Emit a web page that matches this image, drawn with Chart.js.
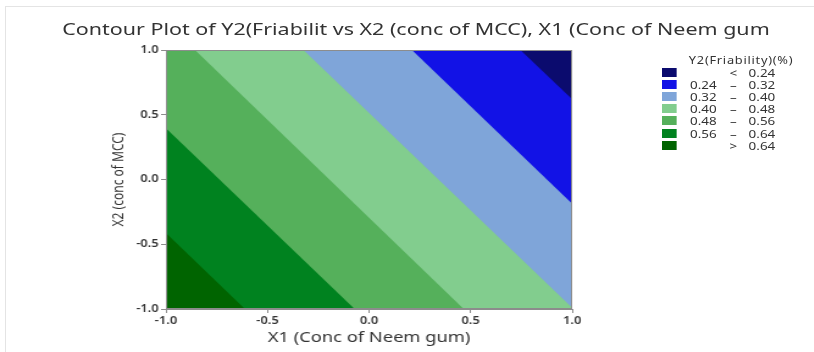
<!DOCTYPE html>
<html lang="en">
<head>
  <meta charset="UTF-8">
  <title>Contour Plot of Y2</title>
  <script src="https://cdn.jsdelivr.net/npm/chart.js"></script>
  <style>
    body { margin: 0; background: #fff; font-family: "Noto Sans", sans-serif; color: #333; }
    .wrap { position: relative; width: 814px; height: 352px; overflow: hidden; }
    .frame { position: absolute; left: 5px; top: 6px; right: 0; bottom: 0; border-top: 1px solid #e4e4e4; border-left: 1px solid #e4e4e4; }
    /* the source image is stretched sideways, so the chart is drawn narrow and scaled */
    .stretch { position: absolute; left: 0; top: 0; transform: scaleX(1.22); transform-origin: 0 0; }
    #title { position: absolute; top: 17px; left: 415.5px; font-size: 16.5px; }
    #title span { position: absolute; left: 0; top: 0; white-space: nowrap; transform: translateX(-50%) scaleX(1.3); }
    #legend { left: 662px; top: 55px; font-size: 11px; }
    #legend .ttl { margin-left: 22px; font-size: 10.5px; line-height: 11px; letter-spacing: 0.6px; }
    #legend .row { display: flex; align-items: center; height: 12.2px; }
    #legend .sw { width: 11.5px; height: 9px; margin-right: 11.5px; }
    #legend .a { width: 23px; }
    #legend .op { width: 25px; text-align: center; }
  </style>
</head>
<body>
  <div class="wrap">
    <div class="frame"></div>
    <div class="stretch">
      <canvas id="contourChart" width="667" height="352"></canvas>
    </div>
    <div id="title"><span>Contour Plot of Y2(Friabilit vs X2 (conc of MCC), X1 (Conc of Neem gum</span></div>
    <div id="legend" class="stretch"></div>
  </div>
  <script>
    // Y2 (Friability) bands, lowest first
    const bandLow = ['', '0.24', '0.32', '0.40', '0.48', '0.56', ''];
    const bandOp = ['<', '\u2013', '\u2013', '\u2013', '\u2013', '\u2013', '>'];
    const bandHigh = ['0.24', '0.32', '0.40', '0.48', '0.56', '0.64', '0.64'];
    const bandColors = ['#0b0b6e', '#1212e6', '#7fa5d9', '#82cd8e', '#55b05b', '#00821f', '#006400'];

    // where each contour line (Y2 = 0.24 ... 0.64) meets the plot frame
    const contourLevels = [0.24, 0.32, 0.40, 0.48, 0.56, 0.64];
    const contourFrom = [[0.745, 1], [0.211, 1], [-0.323, 1], [-0.857, 1], [-1, 0.396], [-1, -0.414]];
    const contourTo = [[1, 0.62], [1, -0.188], [1, -0.99], [0.466, -1], [-0.071, -1], [-0.611, -1]];

    const xTicks = [-1, -0.5, 0, 0.5, 1];
    const yTicks = [-1, -0.5, 0, 0.5, 1];

    // position along the frame, going clockwise from bottom-left corner
    function perim(p) {
      const [x, y] = p;
      if (x === -1) return (y + 1) / 2;
      if (y === 1) return 1 + (x + 1) / 2;
      if (x === 1) return 2 + (1 - y) / 2;
      return 3 + (1 - x) / 2;
    }
    const corners = [[-1, 1], [1, 1], [1, -1]];

    // region where Y2 < level: contour line plus frame corners on the upper right side
    function region(a, b) {
      const ta = perim(a), tb = perim(b);
      const pts = [{x: a[0], y: a[1]}];
      corners.forEach((c, i) => {
        if (i + 1 > ta && i + 1 < tb) pts.push({x: c[0], y: c[1]});
      });
      pts.push({x: b[0], y: b[1]});
      pts.push({x: a[0], y: a[1]});
      return pts;
    }

    const datasets = contourLevels.map((lv, i) => ({
      label: 'Y2 < ' + lv,
      data: region(contourFrom[i], contourTo[i]),
      backgroundColor: bandColors[i],
      borderWidth: 0,
      pointRadius: 0,
      showLine: true,
      fill: 'shape'
    }));
    // whole square: Y2 > 0.64
    datasets.push({
      label: 'Y2 > 0.64',
      data: [{x: -1, y: -1}, {x: -1, y: 1}, {x: 1, y: 1}, {x: 1, y: -1}, {x: -1, y: -1}],
      backgroundColor: bandColors[6],
      borderWidth: 0,
      pointRadius: 0,
      showLine: true,
      fill: 'shape'
    });

    // legend
    const lg = document.getElementById('legend');
    let html = '<div class="ttl">Y2(Friability)(%)</div>';
    bandHigh.forEach((h, i) => {
      html += '<div class="row"><div class="sw" style="background:' + bandColors[i] + '"></div>' +
        '<span class="a">' + bandLow[i] + '</span><span class="op">' + bandOp[i] + '</span><span>' + h + '</span></div>';
    });
    lg.innerHTML = html;

    const frameBox = {
      id: 'frameBox',
      afterDraw(chart) {
        const {ctx, chartArea: a} = chart;
        ctx.save();
        ctx.strokeStyle = '#8c8c8c';
        ctx.lineWidth = 1;
        ctx.strokeRect(a.left + 0.5, a.top + 0.5, a.right - a.left - 1, a.bottom - a.top - 1);
        ctx.restore();
      }
    };

    const font = 'Noto Sans';
    const ctx = document.getElementById('contourChart').getContext('2d');
    new Chart(ctx, {
      type: 'scatter',
      data: { datasets },
      plugins: [frameBox],
      options: {
        responsive: false,
        animation: false,
        layout: { padding: { left: 88, right: 198, top: 50, bottom: 3 } },
        plugins: {
          legend: { display: false },
          tooltip: { enabled: false }
        },
        scales: {
          x: {
            type: 'linear',
            min: -1, max: 1,
            afterBuildTicks: s => { s.ticks = xTicks.map(v => ({value: v})); },
            afterFit: s => { s.height = 40; },
            ticks: { color: '#333', font: { family: font, size: 10.5, weight: '600' }, padding: 2, maxRotation: 0,
              callback: v => v.toFixed(1) },
            grid: { drawOnChartArea: false, tickLength: 4, color: '#8c8c8c' },
            border: { color: '#8c8c8c' },
            title: { display: true, text: 'X1 (Conc of Neem gum)', color: '#333',
              font: { family: font, size: 15 }, padding: { top: 0, bottom: 2 } }
          },
          y: {
            type: 'linear',
            min: -1, max: 1,
            afterBuildTicks: s => { s.ticks = yTicks.map(v => ({value: v})); },
            afterFit: s => { s.width = 48; },
            ticks: { color: '#333', font: { family: font, size: 10.5, weight: '600' }, padding: 2,
              callback: v => v.toFixed(1) },
            grid: { drawOnChartArea: false, tickLength: 4, color: '#8c8c8c' },
            border: { color: '#8c8c8c' },
            title: { display: true, text: 'X2 (conc of MCC)', color: '#333',
              font: { family: font, size: 12 }, padding: { top: 2, bottom: 0 } }
          }
        }
      }
    });
  </script>
</body>
</html>
